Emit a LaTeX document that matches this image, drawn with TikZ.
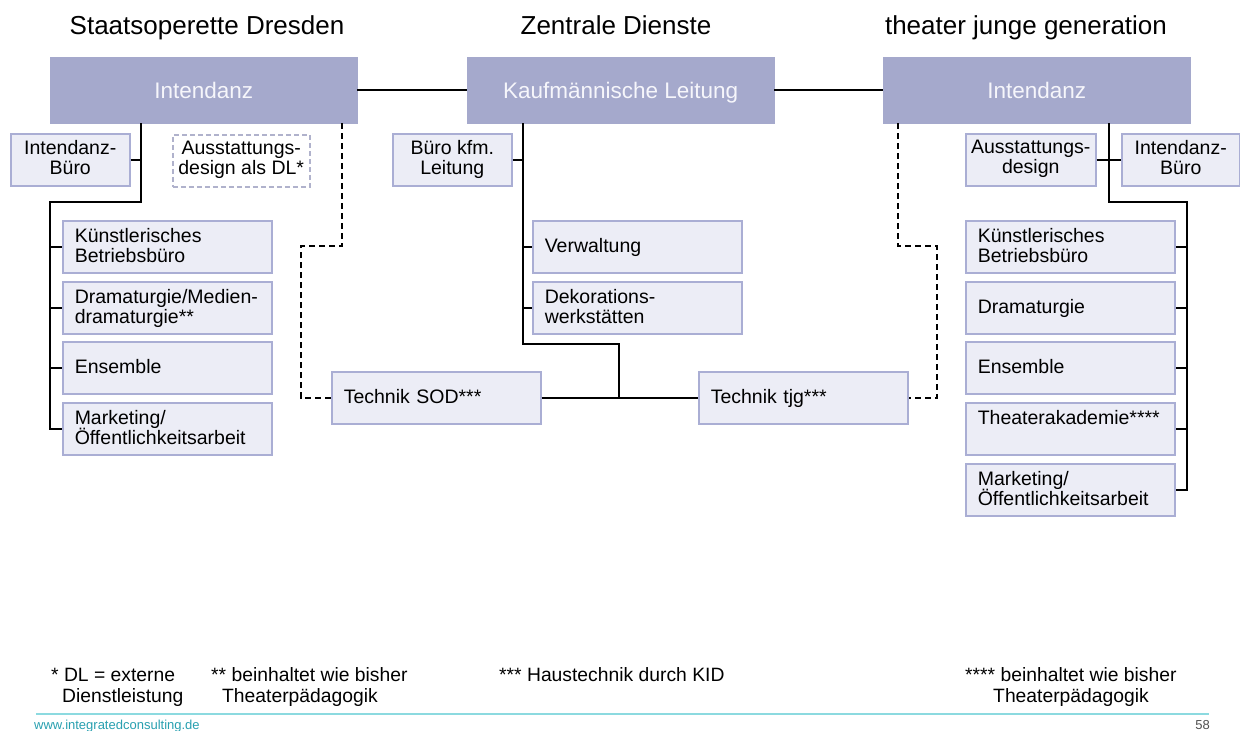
\documentclass[tikz,border=0pt]{standalone}
\usepackage{fontspec}
\setmainfont{Liberation Sans}
\definecolor{hdrfill}{RGB}{165,169,204}
\definecolor{hdrtext}{RGB}{246,246,251}
\definecolor{boxfill}{RGB}{236,237,246}
\definecolor{boxline}{RGB}{170,174,212}
\definecolor{dashline}{RGB}{176,178,204}
\definecolor{footline}{RGB}{140,218,224}
\definecolor{urlcol}{RGB}{40,160,176}
\definecolor{pagecol}{RGB}{80,80,80}
\newcommand{\bxfont}{\fontsize{19.5}{20}\selectfont\lineskiplimit=-100pt\relax}
\newcommand{\bxstrut}{\rule[-5pt]{0pt}{22pt}}
\tikzset{
  hdr/.style={fill=hdrfill, draw=hdrfill, text=hdrtext, minimum width=307pt, minimum height=66pt,
    inner sep=0pt, anchor=north west, text depth=0pt, font=\fontsize{22.5}{26}\selectfont},
  bx/.style={fill=boxfill, draw=boxline, line width=1.5pt, anchor=north west, inner sep=0pt,
    minimum height=52pt, font=\bxfont, execute at begin node=\bxstrut, execute at end node=\bxstrut},
  lbx/.style={bx, text width=185pt, inner xsep=12pt, align=left},
  cbx/.style={bx, minimum width=#1, align=center},
  dbx/.style={bx, fill=none, draw=dashline, dash pattern=on 5pt off 3pt, minimum width=137pt, align=center},
  conn/.style={draw=black, line width=1.5pt},
  dconn/.style={draw=black, line width=1.5pt, dash pattern=on 6pt off 4pt},
  ttl/.style={anchor=base, font=\fontsize{26}{30}\selectfont},
  fn/.style={anchor=base west, inner sep=0pt, font=\fontsize{19.3}{21}\selectfont}
}
\begin{document}
\begin{tikzpicture}[x=1pt,y=-1pt]
\useasboundingbox[fill=white] (0,0) rectangle (1240,731);

% titles
\node[ttl] (t1) at (207,34) {Staatsoperette Dresden};
\node[ttl] (t2) at (616,34) {Zentrale Dienste};
\node[ttl] (t3) at (1026,34) {theater junge generation};

% header boxes
\node[hdr] (int1) at (50,57) {Intendanz};
\node[hdr] (kl) at (467,57) {Kaufmännische Leitung};
\node[hdr] (int2) at (883,57) {Intendanz};

% left column
\node[cbx=119pt] (ib1) at (10,133) {Intendanz-\\Büro};
\node[dbx] (ad1) at (172,134) {Ausstattungs-\\design als DL*};
\node[lbx] (kb1) at (62,220) {Künstlerisches\\Betriebsbüro};
\node[lbx] (dr1) at (62,281) {Dramaturgie/Medien-\\dramaturgie**};
\node[lbx] (en1) at (62,341) {Ensemble};
\node[lbx] (mk1) at (62,402) {Marketing/\\Öffentlichkeitsarbeit};

% middle column
\node[cbx=119pt] (bk) at (392,133) {Büro kfm.\\Leitung};
\node[lbx] (vw) at (532,220) {Verwaltung};
\node[lbx] (dk) at (532,281) {Dekorations-\\werkstätten};
\node[lbx] (sod) at (331,371) {Technik SOD***};
\node[lbx] (tjg) at (698,371) {Technik tjg***};

% right column
\node[cbx=130pt] (ad2) at (965,133) {Ausstattungs-\\design};
\node[cbx=118pt] (ib2) at (1121,133) {Intendanz-\\Büro};
\node[lbx] (kb2) at (965,220) {Künstlerisches\\Betriebsbüro};
\node[lbx] (dr2) at (965,281) {Dramaturgie};
\node[lbx] (en2) at (965,341) {Ensemble};
\node[lbx] (ta2) at (965,402) {Theaterakademie****\\\mbox{}};
\node[lbx] (mk2) at (965,463) {Marketing/\\Öffentlichkeitsarbeit};

% header links
\draw[conn] (int1.east) -- (kl.west);
\draw[conn] (kl.east) -- (int2.west);

% left tree
\coordinate (L1) at (141,123);
\coordinate (L2) at (141,202);
\coordinate (L3) at (50,202);
\draw[conn] (L1) -- (L2) -- (L3) |- (mk1.west);
\draw[conn] (ib1.east) -- (ib1.east -| L1);
\draw[conn] (L3 |- kb1.west) -- (kb1.west);
\draw[conn] (L3 |- dr1.west) -- (dr1.west);
\draw[conn] (L3 |- en1.west) -- (en1.west);

% left dashed link to Technik SOD
\coordinate (D1) at (342,123);
\coordinate (D2) at (301,246);
\draw[dconn] (D1) |- (D2) |- (sod.west);

% middle tree
\coordinate (M1) at (523,123);
\coordinate (M2) at (523,344);
\coordinate (M3) at (619,344);
\draw[conn] (M1) -- (M2) -- (M3) -- (M3 |- sod.east);
\draw[conn] (bk.east) -- (bk.east -| M1);
\draw[conn] (M1 |- vw.west) -- (vw.west);
\draw[conn] (M1 |- dk.west) -- (dk.west);
\draw[conn] (sod.east) -- (tjg.west);

% right dashed link to Technik tjg
\coordinate (RD1) at (898,123);
\coordinate (RD2) at (937,246);
\draw[dconn] (RD1) |- (RD2) |- (tjg.east);

% right tree
\coordinate (R1) at (1109,123);
\coordinate (R2) at (1109,202);
\coordinate (R3) at (1187,202);
\draw[conn] (R1) -- (R2) -- (R3) |- (mk2.east);
\draw[conn, line width=2.5pt] (R2) -- (R3);
\draw[conn] (ad2.east) -- (ib2.west);
\draw[conn] (R3 |- kb2.east) -- (kb2.east);
\draw[conn] (R3 |- dr2.east) -- (dr2.east);
\draw[conn] (R3 |- en2.east) -- (en2.east);
\draw[conn] (R3 |- ta2.east) -- (ta2.east);

% footnotes
\node[fn] (f1a) at (51,681) {* DL = externe};
\node[fn] (f1b) at (62,702) {Dienstleistung};
\node[fn] (f2a) at (211,681) {** beinhaltet wie bisher};
\node[fn] (f2b) at (222,702) {Theaterpädagogik};
\node[fn] (f3a) at (499,681) {*** Haustechnik durch KID};
\node[fn] (f4a) at (965,681) {**** beinhaltet wie bisher};
\node[fn] (f4b) at (993,702) {Theaterpädagogik};

% footer
\coordinate (FL) at (36,714);
\coordinate (FR) at (1209,714);
\draw[footline, line width=1.5pt] (FL) -- (FR);
\node[anchor=base west, text=urlcol, font=\fontsize{13}{15}\selectfont, inner sep=0pt] (url) at (34,729) {www.integratedconsulting.de};
\node[anchor=base east, text=pagecol, font=\fontsize{13}{15}\selectfont, inner sep=0pt] (pg) at (1210,729) {58};
\end{tikzpicture}
\end{document}
